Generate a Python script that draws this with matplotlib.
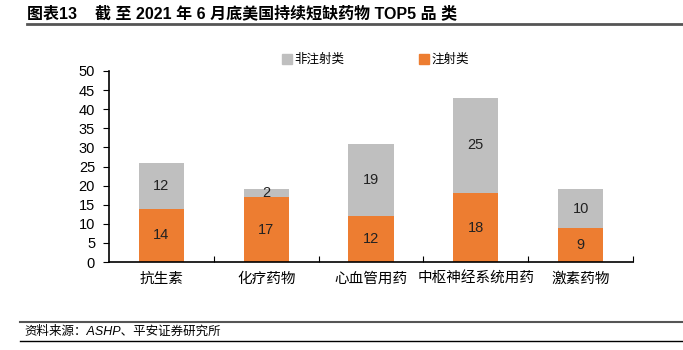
import matplotlib.pyplot as plt
from matplotlib.patches import Patch
from matplotlib.lines import Line2D

plt.rcParams['font.family'] = ['Liberation Sans', 'Noto Sans CJK SC', 'DejaVu Sans']

# data
categories = ['抗生素', '化疗药物', '心血管用药', '中枢神经系统用药', '激素药物']
injection = [14, 17, 12, 18, 9]
non_injection = [12, 2, 19, 25, 10]

orange = '#ED7D31'
grey = '#BFBFBF'

fig = plt.figure(figsize=(6.83, 3.5), dpi=100)
ax = fig.add_axes([109 / 683, 88 / 350, 524 / 683, 191 / 350])

x = list(range(len(categories)))
w = 0.43
ax.bar(x, injection, width=w, color=orange, label='注射类', zorder=2)
ax.bar(x, non_injection, width=w, bottom=injection, color=grey, label='非注射类', zorder=2)

for i in x:
    ax.text(i, injection[i] / 2, str(injection[i]), ha='center', va='center', fontsize=10.5, color='#222222')
    ax.text(i, injection[i] + non_injection[i] / 2, str(non_injection[i]),
            ha='center', va='center', fontsize=10.5, color='#222222')

ax.set_xlim(-0.5, len(categories) - 0.5)
ax.set_ylim(0, 50)
ax.set_yticks(range(0, 51, 5))
ax.tick_params(axis='y', direction='out', length=4, labelsize=10.5, pad=6)
ax.set_xticks([i + 0.5 for i in x])
ax.set_xticklabels([])
ax.tick_params(axis='x', direction='in', length=4)
for i, c in enumerate(categories):
    ax.text(i, -4.5, c, ha='center', va='center', fontsize=10.5)

for s in ['top', 'right']:
    ax.spines[s].set_visible(False)
ax.spines['left'].set_linewidth(1.2)
ax.spines['bottom'].set_linewidth(1.2)

handles = [Patch(color=grey), Patch(color=orange)]
fig.legend(handles, ['非注射类', '注射类'], ncol=2, loc='center left',
           bbox_to_anchor=(271 / 683, 1 - 60 / 350), frameon=False, fontsize=9,
           handlelength=0.8, handleheight=0.8, handletextpad=0.2, columnspacing=5.9)

# title and frame lines
fig.text(27 / 683, 1 - 13 / 350, '图表13    截 至 2021 年 6 月底美国持续短缺药物 TOP5 品 类',
         fontsize=11.5, fontweight='bold', va='center', ha='left')
fig.add_artist(Line2D([27 / 683, 1], [1 - 24 / 350] * 2, color='#555555', lw=2))
fig.add_artist(Line2D([20 / 683, 1], [1 - 322 / 350] * 2, color='#555555', lw=1.5))
fig.add_artist(Line2D([20 / 683, 1], [1 - 341 / 350] * 2, color='#000000', lw=1))
fig.text(24 / 683, 1 - 332 / 350, '资料来源：ASHP、平安证券研究所', fontsize=9,
         style='italic', va='center', ha='left')

fig.savefig('out.png', dpi=100)
